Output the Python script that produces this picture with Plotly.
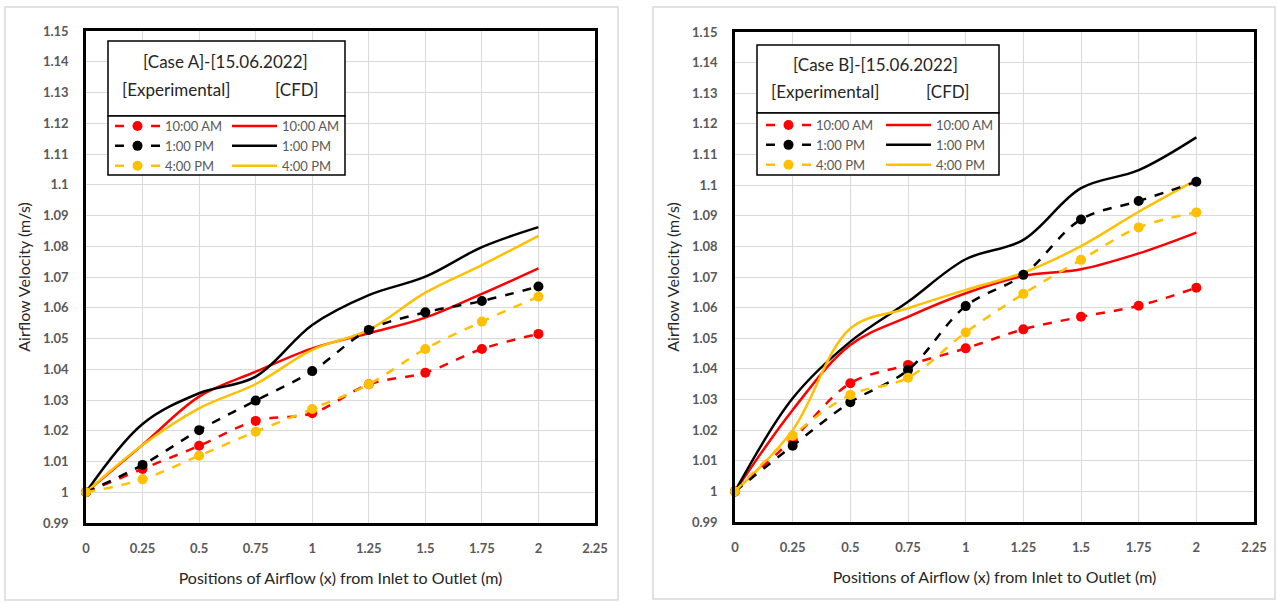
import plotly.graph_objects as go

# ---------------- data ----------------
x_pos = [0, 0.25, 0.5, 0.75, 1.0, 1.25, 1.5, 1.75, 2.0]

x_tickvals = [0, 0.25, 0.5, 0.75, 1.0, 1.25, 1.5, 1.75, 2.0, 2.25]
x_ticktext = ["0", "0.25", "0.5", "0.75", "1", "1.25", "1.5", "1.75", "2", "2.25"]
y_tickvals = [0.99, 1.00, 1.01, 1.02, 1.03, 1.04, 1.05, 1.06, 1.07, 1.08,
              1.09, 1.10, 1.11, 1.12, 1.13, 1.14, 1.15]
y_ticktext = ["0.99", "1", "1.01", "1.02", "1.03", "1.04", "1.05", "1.06", "1.07",
              "1.08", "1.09", "1.1", "1.11", "1.12", "1.13", "1.14", "1.15"]

times = ["10:00 AM", "1:00 PM", "4:00 PM"]

# Case A
a_exp_10am = [1.0, 1.0076, 1.0151, 1.0232, 1.0257, 1.0351, 1.0389, 1.0466, 1.0515]
a_exp_1pm  = [1.0, 1.0089, 1.0202, 1.0298, 1.0394, 1.0528, 1.0585, 1.0622, 1.0669]
a_exp_4pm  = [1.0, 1.0042, 1.0119, 1.0197, 1.0271, 1.0351, 1.0466, 1.0555, 1.0636]
a_cfd_10am = [1.0, 1.0154, 1.0311, 1.0392, 1.0468, 1.0517, 1.0568, 1.0645, 1.0728]
a_cfd_1pm  = [1.0, 1.0222, 1.0322, 1.0376, 1.0544, 1.0641, 1.0701, 1.0797, 1.0862]
a_cfd_4pm  = [1.0, 1.0154, 1.0273, 1.0352, 1.0463, 1.0528, 1.0649, 1.0739, 1.0834]

# Case B
b_exp_10am = [1.0, 1.0170, 1.0353, 1.0413, 1.0467, 1.0529, 1.0570, 1.0606, 1.0665]
b_exp_1pm  = [1.0, 1.0149, 1.0291, 1.0396, 1.0605, 1.0707, 1.0888, 1.0948, 1.1011]
b_exp_4pm  = [1.0, 1.0182, 1.0315, 1.0371, 1.0519, 1.0645, 1.0756, 1.0862, 1.0911]
b_cfd_10am = [1.0, 1.0266, 1.0478, 1.0570, 1.0647, 1.0703, 1.0725, 1.0777, 1.0845]
b_cfd_1pm  = [1.0, 1.0304, 1.0489, 1.0619, 1.0758, 1.0821, 1.0990, 1.1049, 1.1156]
b_cfd_4pm  = [1.0, 1.0200, 1.0532, 1.0598, 1.0658, 1.0714, 1.0801, 1.0913, 1.1017]

colors = ["#FF0000", "#000000", "#FFC000"]

case_titles = ["[Case A]-[15.06.2022]", "[Case B]-[15.06.2022]"]
x_title = "Positions of Airflow (x) from Inlet to Outlet (m)"
y_title = "Airflow Velocity (m/s)"

# ---------------- figure ----------------
W, H = 1277, 603
FONT = "Lato, 'Open Sans', sans-serif"


def px(v):
    return v / W


def py(v):
    return 1 - v / H


fig = go.Figure()

cases = [
    dict(xa="x", ya="y", exp=[a_exp_10am, a_exp_1pm, a_exp_4pm],
         cfd=[a_cfd_10am, a_cfd_1pm, a_cfd_4pm], leg_e="legend", leg_c="legend2"),
    dict(xa="x2", ya="y2", exp=[b_exp_10am, b_exp_1pm, b_exp_4pm],
         cfd=[b_cfd_10am, b_cfd_1pm, b_cfd_4pm], leg_e="legend3", leg_c="legend4"),
]

for c in cases:
    for vals, col, t in zip(c["cfd"], colors, times):
        fig.add_trace(go.Scatter(
            x=x_pos, y=vals, mode="lines", name=t,
            line=dict(color=col, width=2.5, shape="spline", smoothing=1.0),
            xaxis=c["xa"], yaxis=c["ya"], legend=c["leg_c"], cliponaxis=False,
        ))
    for vals, col, t in zip(c["exp"], colors, times):
        fig.add_trace(go.Scatter(
            x=x_pos, y=vals, mode="lines+markers", name=t,
            line=dict(color=col, width=2.5, dash="dash", shape="spline", smoothing=1.0),
            marker=dict(color=col, size=10, symbol="circle"),
            xaxis=c["xa"], yaxis=c["ya"], legend=c["leg_e"], cliponaxis=False,
        ))

axis_common = dict(
    showgrid=True, gridcolor="#d9d9d9", gridwidth=1,
    showline=True, linecolor="#000000", linewidth=2.5, mirror=True,
    zeroline=False, ticks="", automargin=False,
    tickfont=dict(family=FONT, size=13, color="#595959", weight="bold"),
)

xaxis_common = dict(axis_common, range=[0, 2.25], tickmode="array",
                    tickvals=x_tickvals, ticktext=x_ticktext,
                    ticklabelstandoff=12,
                    title=dict(text=x_title, standoff=18,
                               font=dict(family=FONT, size=16, color="#262626")))
yaxis_common = dict(axis_common, range=[0.99, 1.15], tickmode="array",
                    tickvals=y_tickvals, ticktext=y_ticktext,
                    ticklabelstandoff=12,
                    title=dict(text=y_title, standoff=9,
                               font=dict(family=FONT, size=16, color="#262626")))

legend_common = dict(
    xanchor="left", yanchor="top", bgcolor="rgba(0,0,0,0)", borderwidth=0,
    font=dict(family=FONT, size=13, color="#595959"),
    itemwidth=45, tracegroupgap=0, orientation="v",
)

fig.update_layout(
    width=W, height=H, autosize=False,
    margin=dict(l=0, r=0, t=0, b=0),
    paper_bgcolor="white", plot_bgcolor="white",
    showlegend=True,
    xaxis=dict(xaxis_common, domain=[px(86), px(595)], anchor="y"),
    yaxis=dict(yaxis_common, domain=[py(523), py(31)], anchor="x"),
    xaxis2=dict(xaxis_common, domain=[px(735), px(1254)], anchor="y2"),
    yaxis2=dict(yaxis_common, domain=[py(522), py(32)], anchor="x2"),
    legend=dict(legend_common, x=px(110), y=py(111)),
    legend2=dict(legend_common, x=px(227), y=py(111)),
    legend3=dict(legend_common, x=px(761), y=py(110)),
    legend4=dict(legend_common, x=px(881), y=py(110)),
)

shapes = []
# outer chart frames
shapes.append(dict(type="rect", xref="paper", yref="paper",
                   x0=px(5), x1=px(618), y0=py(600), y1=py(7),
                   line=dict(color="#d9d9d9", width=1.5), layer="below"))
shapes.append(dict(type="rect", xref="paper", yref="paper",
                   x0=px(653), x1=px(1275), y0=py(599), y1=py(7),
                   line=dict(color="#d9d9d9", width=1.5), layer="below"))
# legend boxes
for (l, r, t, m, b) in [(108, 345, 41, 116, 175), (757, 999, 45, 113, 175)]:
    shapes.append(dict(type="rect", xref="paper", yref="paper",
                       x0=px(l), x1=px(r), y0=py(m), y1=py(t),
                       line=dict(color="#000000", width=1.5), fillcolor="white", layer="above"))
    shapes.append(dict(type="rect", xref="paper", yref="paper",
                       x0=px(l), x1=px(r), y0=py(b), y1=py(m),
                       line=dict(color="#000000", width=1.5), fillcolor="white", layer="above"))
fig.update_layout(shapes=shapes)

ann_font = dict(family=FONT, size=17, color="#262626")
annotations = [
    dict(text=case_titles[0], x=px(225), y=py(62)),
    dict(text="[Experimental]", x=px(176), y=py(90)),
    dict(text="[CFD]", x=px(296), y=py(90)),
    dict(text=case_titles[1], x=px(875), y=py(65)),
    dict(text="[Experimental]", x=px(825), y=py(92)),
    dict(text="[CFD]", x=px(947), y=py(92)),
]
for a in annotations:
    a.update(xref="paper", yref="paper", showarrow=False, font=ann_font,
             xanchor="center", yanchor="middle")
fig.update_layout(annotations=annotations)

fig.write_html("out.html")
